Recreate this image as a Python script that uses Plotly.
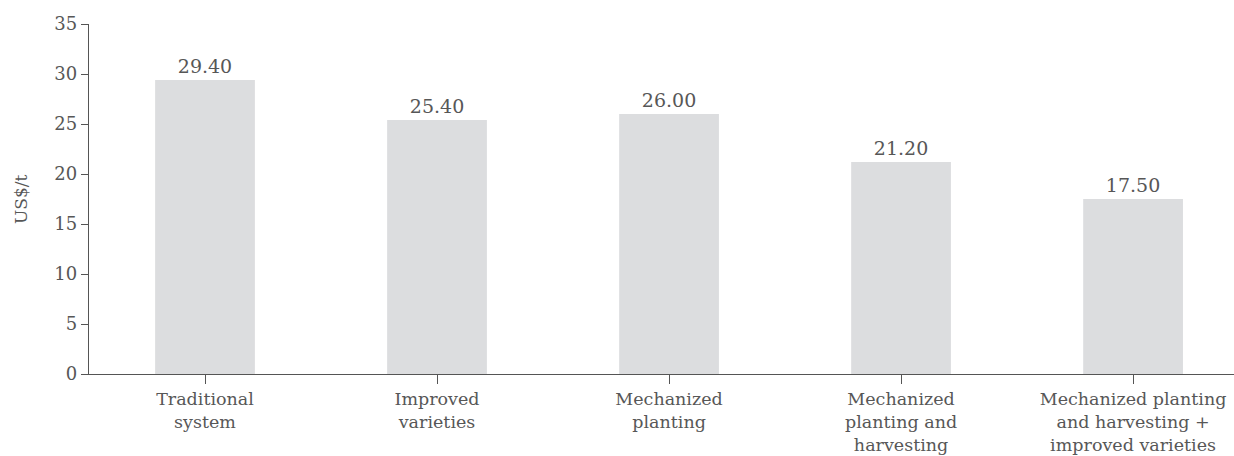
import plotly.graph_objects as go

categories = [
    "Traditional<br>system",
    "Improved<br>varieties",
    "Mechanized<br>planting",
    "Mechanized<br>planting and<br>harvesting",
    "Mechanized planting<br>and harvesting +<br>improved varieties",
]
values = [29.40, 25.40, 26.00, 21.20, 17.50]
y_ticks = [0, 5, 10, 15, 20, 25, 30, 35]

FONT = "DejaVu Serif"
TXT = "#575757"
AX = "#555555"

fig = go.Figure(go.Bar(
    x=list(range(len(categories))),
    y=values,
    width=0.43,
    marker=dict(color="#dcdddf", line=dict(width=0)),
    text=[f"{v:.2f}" for v in values],
    textposition="outside",
    textfont=dict(family=FONT, size=19, color=TXT),
    cliponaxis=False,
))

fig.update_layout(
    width=1234, height=456,
    margin=dict(l=89, r=0, t=24, b=82),
    paper_bgcolor="white", plot_bgcolor="white",
    showlegend=False,
    font=dict(family=FONT, size=17, color=TXT),
    xaxis=dict(
        tickmode="array",
        tickvals=list(range(len(categories))),
        ticktext=categories,
        range=[-0.5, 4.435],
        tickson="boundaries",
        ticks="outside", ticklen=9, tickwidth=1.3, tickcolor=AX,
        showline=True, linecolor=AX, linewidth=1.3,
        showgrid=False, zeroline=False,
        tickfont=dict(family=FONT, size=17.5, color=TXT),
        tickangle=0,
    ),
    yaxis=dict(
        range=[0, 35],
        tickvals=y_ticks,
        ticks="outside", ticklen=7, tickwidth=1.3, tickcolor=AX,
        showline=True, linecolor=AX, linewidth=1.3,
        showgrid=False, zeroline=False,
        tickfont=dict(family=FONT, size=18, color=TXT),
    ),
    annotations=[dict(
        text="US$/t", xref="paper", yref="paper",
        x=-0.0594, y=0.5, xanchor="center", yanchor="middle",
        textangle=-90, showarrow=False,
        font=dict(family=FONT, size=17, color=TXT),
    )],
)

fig.write_html("out.html")
